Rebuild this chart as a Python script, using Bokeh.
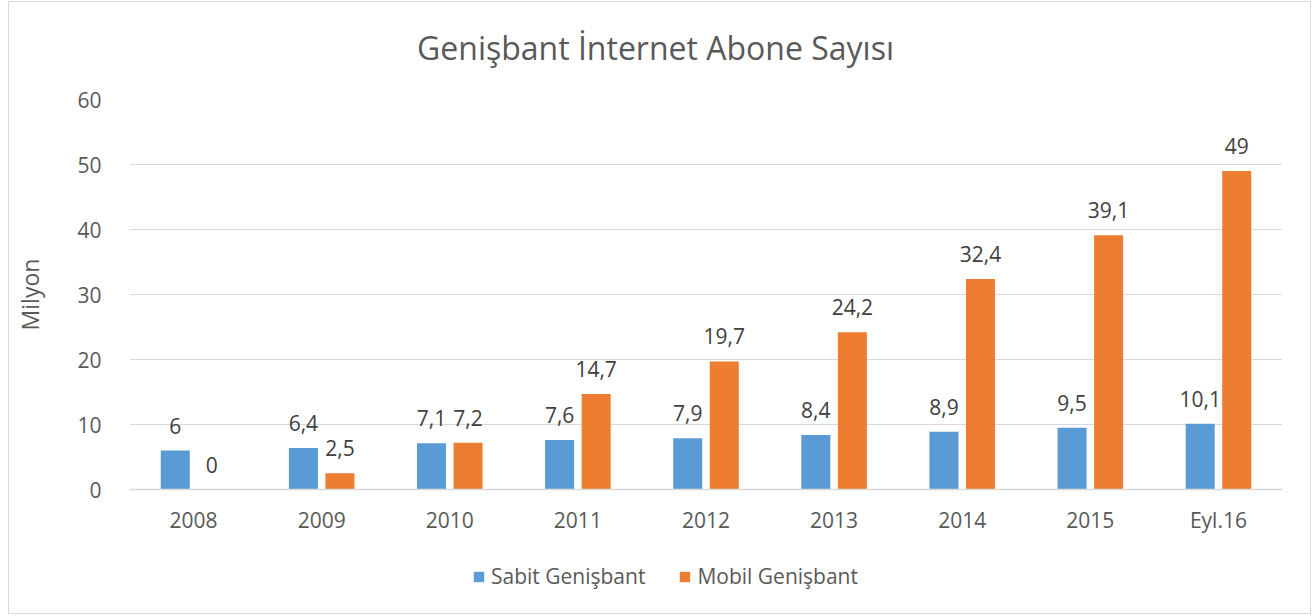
from bokeh.plotting import figure
from bokeh.layouts import column
from bokeh.models import (ColumnDataSource, FactorRange, Range1d, LabelSet, Legend,
                          LegendItem, FixedTicker, Label)
from bokeh.core.properties import value
from bokeh.transform import dodge
from bokeh.embed import file_html
from bokeh.resources import INLINE

categories = ["2008", "2009", "2010", "2011", "2012", "2013", "2014", "2015", "Eyl.16"]
sabit = [6, 6.4, 7.1, 7.6, 7.9, 8.4, 8.9, 9.5, 10.1]
mobil = [0, 2.5, 7.2, 14.7, 19.7, 24.2, 32.4, 39.1, 49]
y_ticks = [0, 10, 20, 30, 40, 50, 60]
title_text = "Genişbant İnternet Abone Sayısı"
series_names = ["Sabit Genişbant", "Mobil Genişbant"]


def fmt(v):
    return ("%g" % v).replace(".", ",")


source = ColumnDataSource(dict(
    cat=categories, sabit=sabit, mobil=mobil,
    sabit_lbl=[fmt(v) for v in sabit], mobil_lbl=[fmt(v) for v in mobil],
))

FONT = "Open Sans"
BLUE = "#5B9BD5"
ORANGE = "#ED7D31"
GRID = "#D9D9D9"
TXT = "#595959"
W_ALL = 1301
H_TITLE, H_CHART, H_LEG = 82, 452, 77
BL, BR = 120, 28  # side borders shared by all strips so frames line up


def blank_fig(h):
    f = figure(width=W_ALL, height=h, x_range=Range1d(BL, W_ALL - BR), y_range=Range1d(0, h),
               x_axis_type=None, y_axis_type=None, output_backend="svg",
               toolbar_location=None, min_border_left=BL, min_border_right=BR,
               min_border_top=0, min_border_bottom=0)
    f.outline_line_color = None
    f.grid.visible = False
    return f


# ---- title strip
tf = blank_fig(H_TITLE)
tf.add_layout(Label(x=646, y=37, text=title_text, text_align="center",
                    text_baseline="middle", text_font=FONT, text_font_size="32px",
                    text_color=TXT))

# ---- chart
p = figure(x_range=FactorRange(*categories), y_range=Range1d(0, 60),
           width=W_ALL, height=H_CHART, output_backend="svg", toolbar_location=None,
           min_border_left=BL, min_border_right=BR, min_border_top=15, min_border_bottom=45)
p.outline_line_color = None

OFF = 0.1426
W = 0.2266
r1 = p.vbar(x=dodge("cat", -OFF, range=p.x_range), top="sabit", width=W, source=source,
            fill_color=BLUE, line_color=None)
r2 = p.vbar(x=dodge("cat", OFF, range=p.x_range), top="mobil", width=W, source=source,
            fill_color=ORANGE, line_color=None)

for col, off in (("sabit", -OFF), ("mobil", OFF)):
    p.add_layout(LabelSet(x=dodge("cat", off, range=p.x_range), y=col, text=col + "_lbl",
                          source=source, text_align="center", text_baseline="alphabetic",
                          y_offset=17, text_font=value(FONT), text_font_size=value("21px"),
                          text_color="#404040"))

p.xgrid.grid_line_color = None
p.ygrid.grid_line_color = GRID
p.ygrid.grid_line_width = 1
p.yaxis.ticker = FixedTicker(ticks=y_ticks)
p.yaxis.axis_line_color = None
p.yaxis.major_tick_line_color = None
p.yaxis.minor_tick_line_color = None
p.yaxis.major_label_standoff = 22
p.yaxis.major_label_text_font = FONT
p.yaxis.major_label_text_font_size = "21px"
p.yaxis.major_label_text_color = TXT
p.yaxis.axis_label = "Milyon"
p.yaxis.axis_label_text_font = FONT
p.yaxis.axis_label_text_font_size = "23px"
p.yaxis.axis_label_text_font_style = "normal"
p.yaxis.axis_label_text_color = TXT
p.yaxis.axis_label_standoff = 28

p.xaxis.axis_line_color = GRID
p.xaxis.axis_line_width = 1.5
p.xaxis.major_tick_line_color = None
p.xaxis.minor_tick_line_color = None
p.xaxis.major_label_standoff = 10
p.xaxis.major_label_text_font = FONT
p.xaxis.major_label_text_font_size = "21px"
p.xaxis.major_label_text_color = TXT

# ---- legend strip (legend entries drawn from proxy renderers that hold no visible data)
lf = blank_fig(H_LEG)
proxy = ColumnDataSource(dict(x=[float("nan")], top=[float("nan")]))
d1 = lf.vbar(x="x", top="top", width=1, source=proxy, fill_color=BLUE, line_color=None)
d2 = lf.vbar(x="x", top="top", width=1, source=proxy, fill_color=ORANGE, line_color=None)
legend = Legend(items=[LegendItem(label=series_names[0], renderers=[d1], index=0),
                       LegendItem(label=series_names[1], renderers=[d2], index=0)],
                orientation="horizontal", location=(463 - BL, 23))
legend.border_line_color = None
legend.background_fill_alpha = 0
legend.padding = 0
legend.margin = 0
legend.spacing = 33
legend.label_standoff = 6
legend.glyph_width = 13
legend.glyph_height = 13
legend.label_text_font = FONT
legend.label_text_font_size = "21px"
legend.label_text_color = TXT
lf.add_layout(legend)

layout = column(tf, p, lf, spacing=0, margin=(1, 0, 0, 8),
                styles={"border": "1px solid #D9D9D9"})

open("out.html", "w").write(file_html(layout, INLINE))
